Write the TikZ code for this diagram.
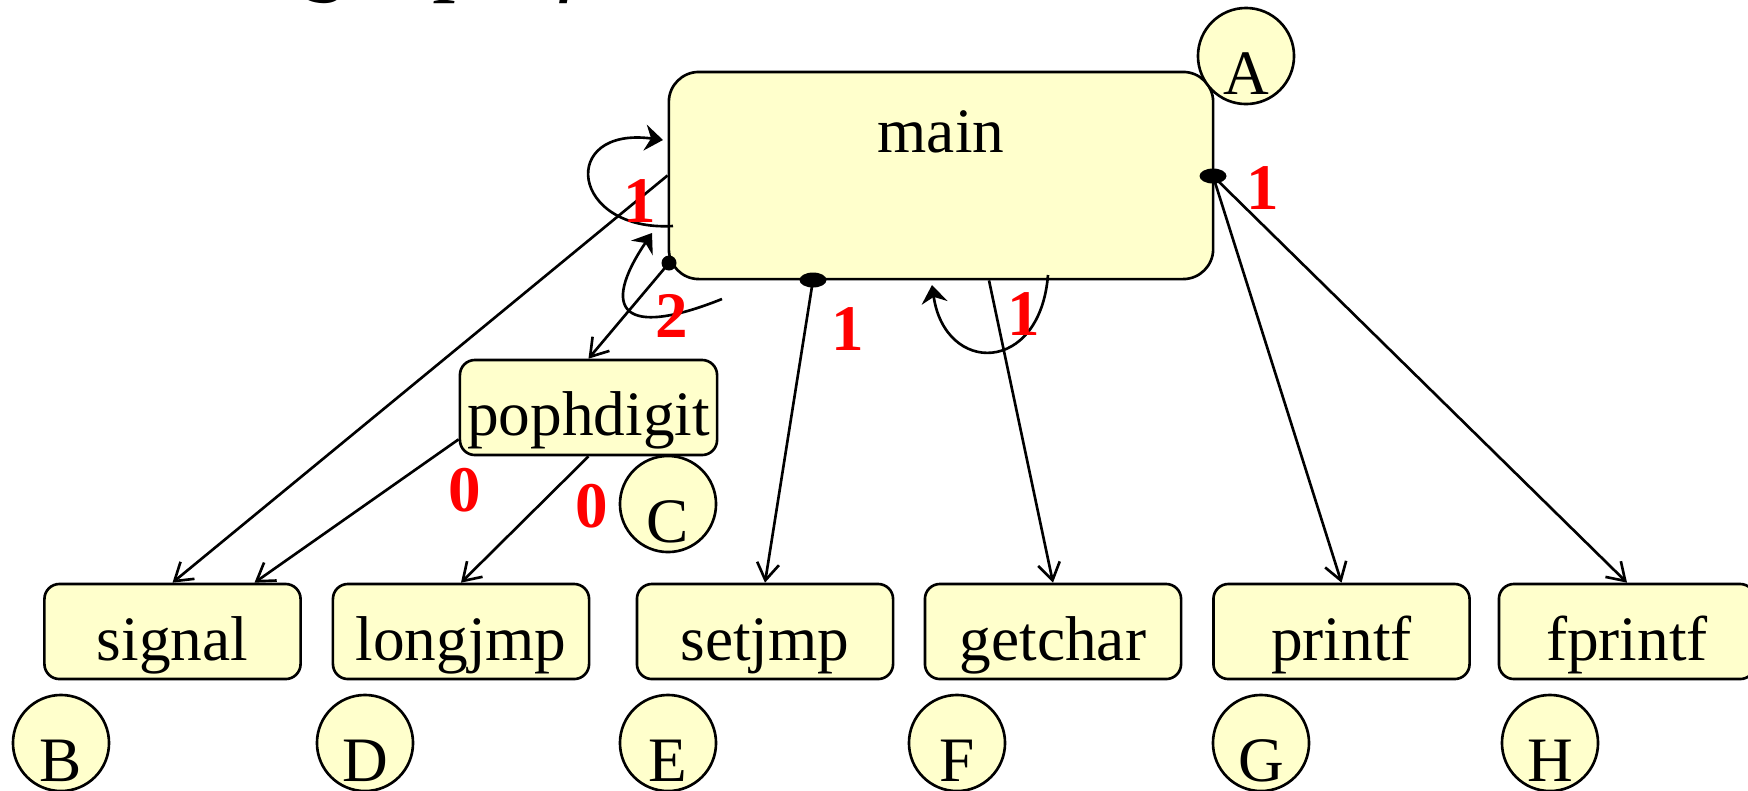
\documentclass[tikz,border=0pt]{standalone}
\usepackage{fontspec}
\setmainfont{Liberation Serif}
\usetikzlibrary{arrows.meta,calc,shapes.geometric}
\definecolor{boxfill}{HTML}{FFFFCC}
\definecolor{numred}{HTML}{FF0000}
\newcommand\lblfont{\fontsize{18}{21}\selectfont}
\newcommand\numfont{\fontsize{18.5}{21}\selectfont\bfseries}
\newcommand\ttlfont{\fontsize{27}{30}\selectfont\itshape}
\begin{document}
\begin{tikzpicture}[x=0.01cm,y=-0.01cm,
  fn/.style={draw=black, line width=0.75pt, fill=boxfill, inner sep=0pt, font=\lblfont},
  callbox/.style={fn, rounded corners=0.15cm, minimum width=2.56cm, minimum height=0.95cm, text height=0.57cm, text depth=0cm},
  tagc/.style={fn, circle, minimum size=0.96cm, text height=0.76cm, text depth=0cm},
  call/.style={line width=0.75pt, -{Straight Barb[length=0.17cm,width=0.22cm]}},
  selfloop/.style={line width=0.75pt, -{Stealth[length=0.18cm,width=0.26cm,inset=0.06cm]}},
  dotc/.style={circle, fill=black, inner sep=0pt, minimum size=0.15cm},
  dote/.style={ellipse, fill=black, inner sep=0pt, minimum width=0.27cm, minimum height=0.15cm},
  cnt/.style={text=numred, font=\numfont, inner sep=0pt}]
\path[fill=white, use as bounding box] (0,0) rectangle (1748,790);

% title (cut off at the top of the picture, as in the reference)
\node[anchor=base west, font=\ttlfont, inner sep=0pt] (title) at (120,-17) {Call graph for the desk calculator};

% function boxes
\node[fn, rounded corners=0.3cm, minimum width=5.44cm, minimum height=2.07cm, text height=0cm, text depth=0.45cm] (main) at (941,175.5) {main};
\node[fn, rounded corners=0.15cm, minimum width=2.57cm, minimum height=0.95cm, text height=0.55cm, text depth=0cm] (pophdigit) at (588.5,407.5) {pophdigit};
\node[callbox] (signal) at (172.5,631.5) {signal};
\node[callbox] (longjmp) at (461,631.5) {longjmp};
\node[callbox] (setjmp) at (765,631.5) {setjmp};
\node[callbox] (getchar) at (1053,631.5) {getchar};
\node[callbox] (printf) at (1341.5,631.5) {printf};
\node[callbox] (fprintf) at (1627,631.5) {fprintf};

% letter circles
\node[tagc] (tA) at (1246,56) {A};
\node[tagc] (tC) at (668,504) {C};
\node[tagc] (tB) at (61,743) {B};
\node[tagc] (tD) at (365,743) {D};
\node[tagc] (tE) at (668,743) {E};
\node[tagc] (tF) at (957,743) {F};
\node[tagc] (tG) at (1261,743) {G};
\node[tagc] (tH) at (1550,743) {H};

% call site dots
\node[dotc] (d1) at (669,263) {};
\node[dote] (d2) at (813,280) {};
\node[dote] (d3) at (1213,176) {};

% loop end points
\coordinate (l1s) at (673,226);
\coordinate (l1e) at (663,140);
\coordinate (l2s) at (722,299);
\coordinate (l2e) at (652,233);
\coordinate (l3s) at (1048,275);
\coordinate (l3e) at (932,285);

% calls
\draw[call] (main.west) -- (signal.north);
\draw[call] (d1.center) -- (pophdigit.north);
\draw[call] ($(pophdigit.south west)+(0,-17)$) -- ($(signal.north)+(82,0)$);
\draw[call] (pophdigit.south) -- (longjmp.north);
\draw[call] (d2.center) -- (setjmp.north);
\draw[call] ($(main.south)+(48,0)$) -- (getchar.north);
\draw[call] (d3.center) -- (printf.north);
\draw[call] (d3.center) -- (fprintf.north);

% self loops
\draw[selfloop] (l1s) .. controls (570,232) and (558,126) .. (l1e);
\draw[selfloop] (l2s) .. controls (622,339) and (600,310) .. (l2e);
\draw[selfloop] (l3s) .. controls (1040,375) and (945,375) .. (l3e);

% counts
\node[cnt] (n1) at (640,201) {1};
\node[cnt] (n2) at (672,316) {2};
\node[cnt] (n3) at (848,329) {1};
\node[cnt] (n4) at (1024,314) {1};
\node[cnt] (n5) at (1263,188) {1};
\node[cnt] (n6) at (465,490) {0};
\node[cnt] (n7) at (592,506) {0};
\end{tikzpicture}
\end{document}
